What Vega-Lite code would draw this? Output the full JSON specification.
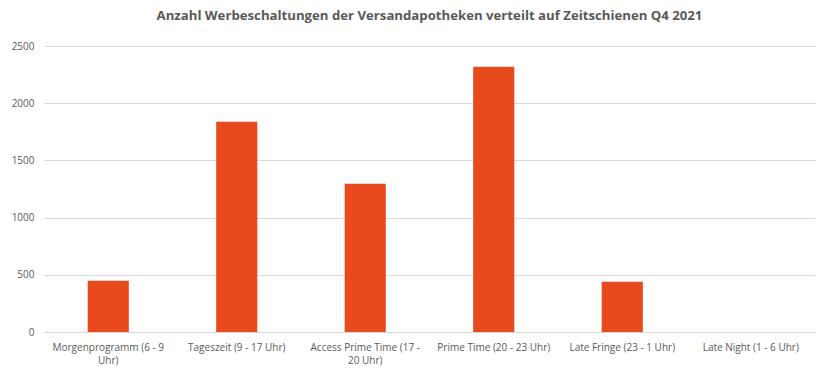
{
  "$schema": "https://vega.github.io/schema/vega-lite/v6.json",
  "width": 771,
  "height": 286,
  "autosize": "none",
  "padding": {"left": 44, "top": 46, "right": 17, "bottom": 52},
  "background": "white",
  "title": {
    "text": "Anzahl Werbeschaltungen der Versandapotheken verteilt auf Zeitschienen Q4 2021",
    "font": "Open Sans",
    "fontSize": 13.2,
    "fontWeight": "bold",
    "color": "#595959",
    "anchor": "middle",
    "offset": 18
  },
  "data": {
    "values": [
      {"zeitschiene": "Morgenprogramm (6 - 9 Uhr)", "anzahl": 448},
      {"zeitschiene": "Tageszeit (9 - 17 Uhr)", "anzahl": 1838},
      {"zeitschiene": "Access Prime Time (17 - 20 Uhr)", "anzahl": 1296},
      {"zeitschiene": "Prime Time (20 - 23 Uhr)", "anzahl": 2318},
      {"zeitschiene": "Late Fringe (23 - 1 Uhr)", "anzahl": 440},
      {"zeitschiene": "Late Night (1 - 6 Uhr)", "anzahl": 0}
    ]
  },
  "mark": {"type": "bar", "color": "#E8491D"},
  "encoding": {
    "x": {
      "field": "zeitschiene",
      "type": "nominal",
      "sort": null,
      "scale": {"paddingInner": 0.68, "paddingOuter": 0.34},
      "axis": {
        "title": null,
        "labelAngle": 0,
        "labelFont": "Open Sans",
        "labelFontSize": 10,
        "labelColor": "#595959",
        "labelPadding": 10,
        "labelLineHeight": 13,
        "labelLimit": 200,
        "ticks": false,
        "domainColor": "#D9D9D9",
        "labelExpr": "datum.value == 'Morgenprogramm (6 - 9 Uhr)' ? ['Morgenprogramm (6 - 9', 'Uhr)'] : datum.value == 'Access Prime Time (17 - 20 Uhr)' ? ['Access Prime Time (17 -', '20 Uhr)'] : datum.value"
      }
    },
    "y": {
      "field": "anzahl",
      "type": "quantitative",
      "scale": {"domain": [0, 2500]},
      "axis": {
        "title": null,
        "values": [0, 500, 1000, 1500, 2000, 2500],
        "format": "d",
        "labelFont": "Open Sans",
        "labelFontSize": 10,
        "labelColor": "#595959",
        "labelPadding": 10,
        "ticks": false,
        "domain": false,
        "gridColor": "#D9D9D9"
      }
    }
  },
  "config": {"view": {"stroke": null}}
}
